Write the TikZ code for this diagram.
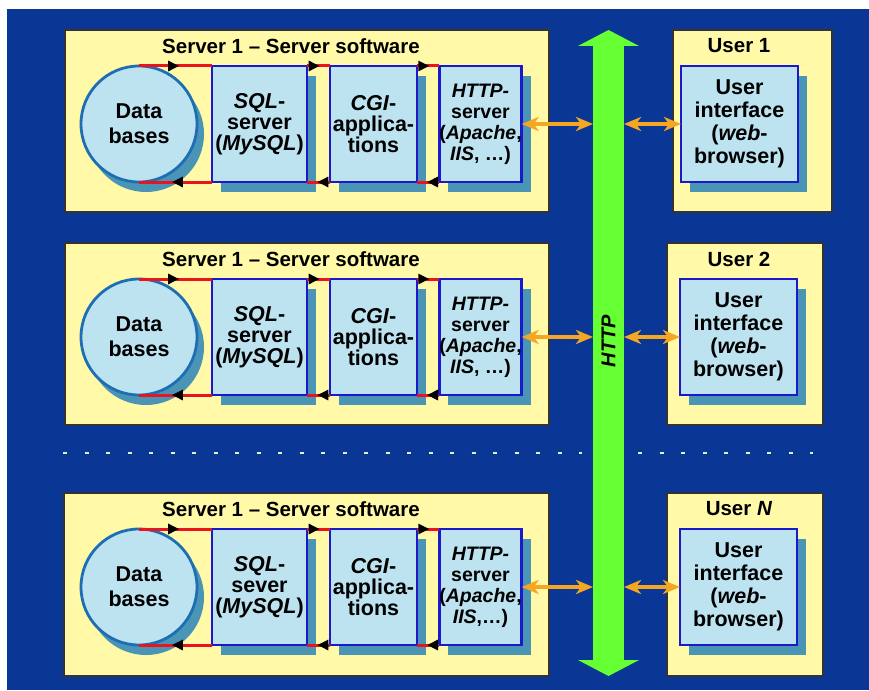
\documentclass[tikz,border=0pt]{standalone}
\usepackage{fontspec}
\setmainfont{Liberation Sans}
\usetikzlibrary{arrows.meta,shadows,decorations.markings}

\definecolor{navy}{HTML}{0A3796}
\definecolor{panelyellow}{HTML}{FFF9A8}
\definecolor{unitfill}{HTML}{BDE3F0}
\definecolor{unitblue}{HTML}{1A1ACC}
\definecolor{unitshadow}{HTML}{4A95B5}
\definecolor{storeblue}{HTML}{1E6EB4}
\definecolor{flowred}{HTML}{E8141E}
\definecolor{weborange}{HTML}{F5A623}
\definecolor{busgreen}{HTML}{66FF33}
\definecolor{gapdash}{HTML}{E0F0D0}

\begin{document}
\begin{tikzpicture}[x=1pt, y=-1pt,
    panel/.style={draw=black!80, line width=1.2pt, fill=panelyellow, inner sep=0pt, outer sep=0pt},
    unit/.style={draw=unitblue, line width=2.8pt, fill=unitfill, inner sep=0pt, outer sep=0pt,
        drop shadow={shadow xshift=9pt, shadow yshift=-10pt, fill=unitshadow, opacity=1},
        minimum height=116pt, align=center, font=\bfseries\fontsize{21.5}{21}\selectfont},
    httpunit/.style={unit, minimum width=79pt, font=\bfseries\fontsize{19.5}{21}\selectfont},
    uiunit/.style={unit, minimum width=117pt, font=\bfseries\fontsize{21.5}{23}\selectfont},
    store/.style={circle, draw=storeblue, line width=2.8pt, fill=unitfill, inner sep=0pt, outer sep=0pt,
        drop shadow={shadow xshift=7pt, shadow yshift=-10pt, fill=unitshadow, opacity=1},
        minimum size=116pt, align=center, font=\bfseries\fontsize{21.5}{25}\selectfont},
    heading/.style={font=\bfseries\fontsize{20.5}{22}\selectfont},
    flow/.style={draw=flowred, line width=3pt, postaction={decorate},
        decoration={markings, mark=at position 0.55 with {\arrow[black]{Triangle[length=11pt, width=10pt]}}}},
    web/.style={draw=weborange, line width=4pt,
        {Stealth[length=17pt, width=14pt, inset=5pt]}-{Stealth[length=17pt, width=14pt, inset=5pt]}},
    bus/.style={fill=busgreen, inner sep=0pt, outer sep=0pt, minimum width=31pt, minimum height=614pt},
    gap/.style={draw=gapdash, line width=2pt, dash pattern=on 4pt off 17.5pt}]

    \useasboundingbox (0,0) rectangle (869,690);
    \fill[white] (0,0) rectangle (869,690);
    \fill[navy] (7,9) rectangle (869,690);

    % first server and user 1
    \node[panel, minimum width=484pt, minimum height=182pt] (srv1) at (307,121) {};
    \node[heading] (srvname1) at (291,46) {Server 1 -- Server software};
    \node[store] (db1) at (139,124) {Data\\bases};
    \node[unit, minimum width=95pt] (sql1) at (259.5,124) {\textit{SQL}-\\server\\(\textit{MySQL})};
    \node[unit, minimum width=87pt] (cgi1) at (373.5,124) {\textit{CGI}-\\applica-\\tions};
    \node[httpunit] (http1) at (480.5,124) {\textit{HTTP-}\\server\\(\textit{Apache},\\\textit{IIS}, \ldots)};
    \node[panel, minimum width=159pt, minimum height=182pt] (usr1) at (752.5,121) {};
    \node[heading] (usrname1) at (739,46) {User 1};
    \node[uiunit] (ui1) at (739.5,124) {User\\interface\\(\textit{web}-\\browser)};

    % second server and user 2
    \node[panel, minimum width=484pt, minimum height=182pt] (srv2) at (307,334) {};
    \node[heading] (srvname2) at (291,259) {Server 1 -- Server software};
    \node[store] (db2) at (139,337) {Data\\bases};
    \node[unit, minimum width=95pt] (sql2) at (259.5,337) {\textit{SQL}-\\server\\(\textit{MySQL})};
    \node[unit, minimum width=87pt] (cgi2) at (373.5,337) {\textit{CGI}-\\applica-\\tions};
    \node[httpunit] (http2) at (480.5,337) {\textit{HTTP-}\\server\\(\textit{Apache},\\\textit{IIS}, \ldots)};
    \node[panel, minimum width=156pt, minimum height=182pt] (usr2) at (745,334) {};
    \node[heading] (usrname2) at (739,259) {User 2};
    \node[uiunit] (ui2) at (738.5,337) {User\\interface\\(\textit{web}-\\browser)};

    % last server and user N
    \node[panel, minimum width=485pt, minimum height=183pt] (srv3) at (306.5,584.5) {};
    \node[heading] (srvname3) at (291,509) {Server 1 -- Server software};
    \node[store] (db3) at (139,587) {Data\\bases};
    \node[unit, minimum width=95pt] (sql3) at (259.5,587) {\textit{SQL}-\\sever\\(\textit{MySQL})};
    \node[unit, minimum width=87pt] (cgi3) at (373.5,587) {\textit{CGI}-\\applica-\\tions};
    \node[httpunit] (http3) at (480.5,587) {\textit{HTTP-}\\server\\(\textit{Apache},\\\textit{IIS},\ldots)};
    \node[panel, minimum width=156pt, minimum height=183pt] (usr3) at (745,584.5) {};
    \node[heading] (usrname3) at (739,509) {User \textit{N}};
    \node[uiunit] (ui3) at (738.5,587) {User\\interface\\(\textit{web}-\\browser)};

    % request/answer loops inside each server
    \draw[flow] (db1.north) -- (sql1.north west);
    \draw[flow] (sql1.north east) -- (cgi1.north west);
    \draw[flow] (cgi1.north east) -- (http1.north west);
    \draw[flow] (http1.south west) -- (cgi1.south east);
    \draw[flow] (cgi1.south west) -- (sql1.south east);
    \draw[flow] (sql1.south west) -- (db1.south);

    \draw[flow] (db2.north) -- (sql2.north west);
    \draw[flow] (sql2.north east) -- (cgi2.north west);
    \draw[flow] (cgi2.north east) -- (http2.north west);
    \draw[flow] (http2.south west) -- (cgi2.south east);
    \draw[flow] (cgi2.south west) -- (sql2.south east);
    \draw[flow] (sql2.south west) -- (db2.south);

    \draw[flow] (db3.north) -- (sql3.north west);
    \draw[flow] (sql3.north east) -- (cgi3.north west);
    \draw[flow] (cgi3.north east) -- (http3.north west);
    \draw[flow] (http3.south west) -- (cgi3.south east);
    \draw[flow] (cgi3.south west) -- (sql3.south east);
    \draw[flow] (sql3.south west) -- (db3.south);

    % dots for the servers and users left out
    \draw[gap] (63,453) -- (582,453);
    \draw[gap] (638,453) -- (813,453);

    % the HTTP bus
    \node[bus] (bus) at (608.5,353) {};
    \fill[busgreen] ([xshift=-15pt]bus.north west) -- ([yshift=16pt]bus.north) -- ([xshift=15pt]bus.north east) -- cycle;
    \fill[busgreen] ([xshift=-15pt]bus.south west) -- ([yshift=-16pt]bus.south) -- ([xshift=15pt]bus.south east) -- cycle;
    \node[rotate=90, font=\bfseries\itshape\fontsize{20}{20}\selectfont] (busname) at (608.5,341) {HTTP};

    \draw[web] (http1.east) -- (http1.east -| bus.west);
    \draw[web] (ui1.west -| bus.east) -- (ui1.west);
    \draw[web] (http2.east) -- (http2.east -| bus.west);
    \draw[web] (ui2.west -| bus.east) -- (ui2.west);
    \draw[web] (http3.east) -- (http3.east -| bus.west);
    \draw[web] (ui3.west -| bus.east) -- (ui3.west);
\end{tikzpicture}
\end{document}
